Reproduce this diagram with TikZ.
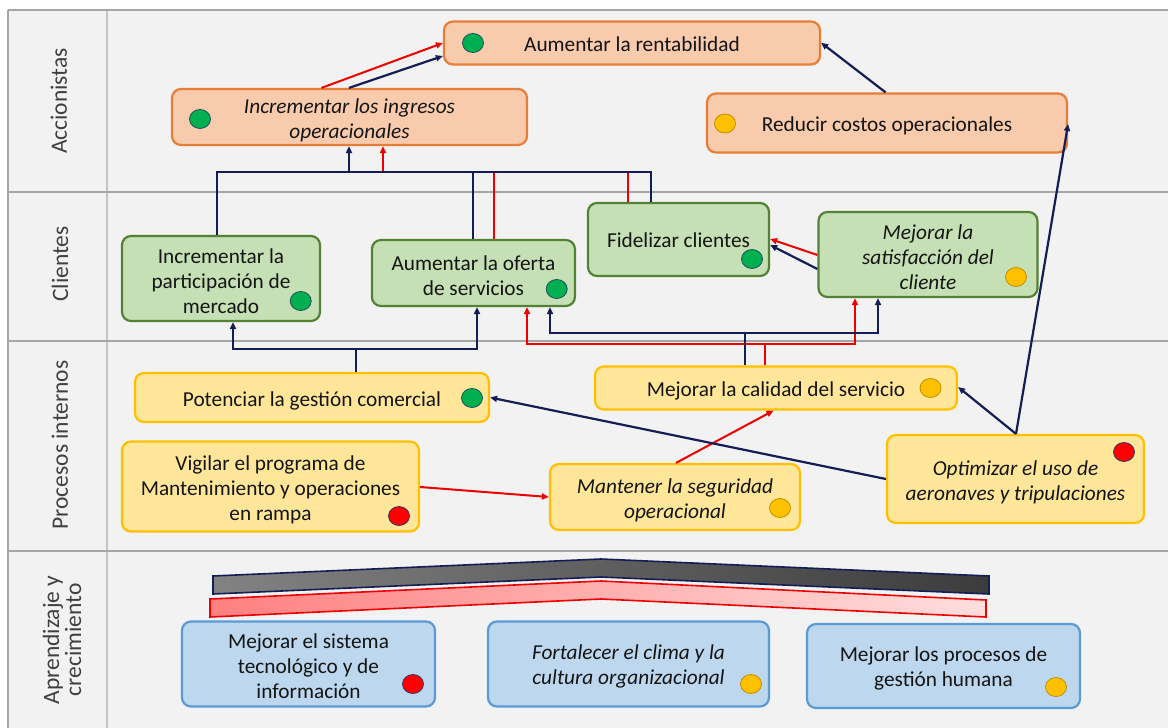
\documentclass[tikz,border=0pt]{standalone}
\usepackage{fontspec}
\setmainfont{Carlito}
\usetikzlibrary{arrows.meta,shapes.geometric}
\definecolor{navy}{RGB}{20,30,84}
\definecolor{redc}{RGB}{236,0,0}
\definecolor{bgc}{RGB}{242,242,242}
\definecolor{gridc}{RGB}{166,166,166}
\definecolor{gridl}{RGB}{196,196,196}
\definecolor{lanetext}{RGB}{64,64,64}
\definecolor{accfill}{RGB}{248,203,173}
\definecolor{accline}{RGB}{232,125,55}
\definecolor{clifill}{RGB}{197,224,180}
\definecolor{cliline}{RGB}{84,130,53}
\definecolor{procfill}{RGB}{255,230,153}
\definecolor{procline}{RGB}{255,192,0}
\definecolor{aprfill}{RGB}{189,215,238}
\definecolor{aprline}{RGB}{91,155,213}
\definecolor{dgreen}{RGB}{0,176,80}
\definecolor{dgreenl}{RGB}{31,78,90}
\definecolor{dyellow}{RGB}{255,192,0}
\definecolor{dyellowl}{RGB}{191,144,0}
\definecolor{dred}{RGB}{255,0,0}
\definecolor{dredl}{RGB}{47,58,107}
\definecolor{bandgA}{RGB}{130,130,130}
\definecolor{bandgB}{RGB}{60,60,60}
\definecolor{bandrA}{RGB}{255,128,128}
\definecolor{bandrB}{RGB}{255,222,222}
\newcommand\tsh[1]{\rule{0pt}{#1pt}}
\tikzset{
  box/.style={rectangle, rounded corners=9pt, line width=2.2pt, align=center,
    inner sep=0pt, font=\fontsize{21.3}{25}\selectfont, text=black!92},
  acc/.style={box, fill=accfill, draw=accline},
  cli/.style={box, fill=clifill, draw=cliline},
  proc/.style={box, fill=procfill, draw=procline},
  apr/.style={box, fill=aprfill, draw=aprline},
  dot/.style={ellipse, minimum width=21pt, minimum height=19pt, inner sep=0pt, line width=0.8pt},
  dotg/.style={dot, fill=dgreen, draw=dgreenl},
  doty/.style={dot, fill=dyellow, draw=dyellowl},
  dotr/.style={dot, fill=dred, draw=dredl},
  nv/.style={draw=navy, line width=2.2pt},
  nva/.style={nv, -{Triangle[length=7pt,width=6pt]}},
  rd/.style={draw=redc, line width=2pt},
  rda/.style={rd, -{Triangle[length=7pt,width=6pt]}},
  lane/.style={rotate=90, font=\fontsize{23.5}{22}\selectfont, text=lanetext, align=center, inner sep=0pt},
}
\begin{document}
\begin{tikzpicture}[x=1pt,y=-1pt]
\useasboundingbox (0,0) rectangle (1168,728);
% background and grid
\fill[bgc] (8,10) rectangle (1168,728);
\draw[gridl, line width=1.2pt] (107,10) -- (107,728);
\draw[gridc, line width=1.6pt] (8,10) -- (1168,10);
\draw[gridc, line width=1.6pt] (8,10) -- (8,728);
\foreach \yy in {192,341,551} {\draw[gridc, line width=2.2pt] (8,\yy) -- (1168,\yy);}
% lane labels
\node[lane] (lA) at (59,101) {Accionistas};
\node[lane] (lC) at (60,264) {Clientes};
\node[lane] (lP) at (60,445) {Procesos internos};
\node[lane] (lL) at (62,640) {Aprendizaje y\\crecimiento};
% Accionistas
\node[acc, minimum width=376pt, minimum height=43pt] (rent) at (632,43) {\tsh{17}Aumentar la rentabilidad};
\node[acc, minimum width=355pt, minimum height=56pt] (ingr) at (349.5,117) {\tsh{21}\itshape Incrementar los ingresos\\\itshape operacionales};
\node[acc, minimum width=360pt, minimum height=59pt] (costos) at (887,123) {\tsh{21}Reducir costos operacionales};
% Clientes
\node[cli, minimum width=198pt, minimum height=85pt] (part) at (221,278.5) {\tsh{20}Incrementar la\\participación de\\mercado};
\node[cli, minimum width=203pt, minimum height=66pt] (oferta) at (473.4,273) {\tsh{21}Aumentar la oferta\\de servicios};
\node[cli, minimum width=181pt, minimum height=73pt] (fidel) at (678.5,239.5) {\tsh{17}Fidelizar clientes};
\node[cli, minimum width=219pt, minimum height=85pt] (satis) at (928,254.5) {\tsh{20}\itshape Mejorar la\\\itshape satisfacción del\\\itshape cliente};
% Procesos internos
\node[proc, minimum width=354pt, minimum height=49pt] (poten) at (312,397.5) {\tsh{21}Potenciar la gestión comercial};
\node[proc, minimum width=362pt, minimum height=43pt] (calidad) at (776,388) {\tsh{21}Mejorar la calidad del servicio};
\node[proc, minimum width=297pt, minimum height=90pt] (vigilar) at (270.5,486.5) {\tsh{22}Vigilar el programa de\\Mantenimiento y operaciones\\en rampa};
\node[proc, minimum width=250pt, minimum height=66pt] (manten) at (675,497) {\tsh{22}\itshape Mantener la seguridad\\\itshape operacional};
\node[proc, minimum width=257pt, minimum height=88pt] (optim) at (1015.5,479) {\tsh{22}\itshape Optimizar el uso de\\\itshape aeronaves y tripulaciones};
% Aprendizaje
\node[apr, minimum width=253pt, minimum height=85pt] (sistema) at (308.5,664) {\tsh{20}Mejorar el sistema\\tecnológico y de\\información};
\node[apr, minimum width=281pt, minimum height=85pt] (clima) at (628.5,664) {\tsh{20}\itshape Fortalecer el clima y la\\\itshape cultura organizacional};
\node[apr, minimum width=273pt, minimum height=84pt] (humana) at (943.5,666) {\tsh{20}Mejorar los procesos de\\gestión humana};
% status dots
\node[dotg] (d1) at (473,43) {};
\node[dotg] (d2) at (200,119) {};
\node[doty] (d3) at (725,123.5) {};
\node[dotg] (d4) at (300.7,301) {};
\node[dotg] (d5) at (556.7,289) {};
\node[dotg] (d6) at (752,259) {};
\node[doty] (d7) at (1016,277) {};
\node[dotg] (d8) at (472,398) {};
\node[doty] (d9) at (930.5,388) {};
\node[dotr] (d10) at (399,516) {};
\node[doty] (d11) at (780,508) {};
\node[dotr] (d12) at (1124,452) {};
\node[dotr] (d13) at (413,684) {};
\node[doty] (d14) at (751,684) {};
\node[doty] (d15) at (1056,687) {};
% top connectors
\draw[rda] (ingr.north -| 321.5,0) -- (rent.west);
\draw[nva] (ingr.north -| 349,0) -- (rent.west |- 0,56);
\draw[nva] (costos.north -| 885.6,0) -- (rent.east |- 0,42.7);
% clients to ingresos
\coordinate (tbL) at (217,172);
\coordinate (tbR) at (651,172);
\coordinate (tbA) at (349,172);
\coordinate (tbB) at (383,172);
\draw[rd] (oferta.north -| 494,0) -- (494,172);
\draw[rd] (fidel.north -| 628,0) -- (628,172);
\draw[rda] (tbB) -- (ingr.south -| tbB);
\draw[nv] (part.north -| tbL) -- (tbL) -- (tbR) -- (fidel.north -| tbR);
\draw[nv] (oferta.north -| 473,0) -- (473,172);
\draw[nva] (tbA) -- (ingr.south -| tbA);
% satisfaccion to fidelizar
\draw[rda] (satis.west |- 0,255) -- (fidel.east |- 0,239);
\draw[nva] (satis.west |- 0,269) -- (fidel.east |- 0,245);
% potenciar bus
\coordinate (pb) at (356,349);
\draw[nv] (poten.north -| pb) -- (pb);
\draw[nva] (pb) -| (part.south -| 233,0);
\draw[nva] (pb) -| (oferta.south -| 477,0);
% calidad buses
\coordinate (cr) at (765,344);
\coordinate (cn) at (745,333);
\draw[rd] (calidad.north -| cr) -- (cr);
\draw[rda] (cr) -| (oferta.south -| 527,0);
\draw[rda] (cr) -| (satis.south -| 855,0);
\draw[nv] (calidad.north -| cn) -- (cn);
\draw[nva] (cn) -| (oferta.south -| 550,0);
\draw[nva] (cn) -| (satis.south -| 878,0);
% procesos internos connectors
\draw[rda] (manten.north -| 676,0) -- (calidad.south -| 773.5,0);
\draw[rda] (vigilar.east |- 0,487) -- (manten.west |- 0,497);
\draw[nva] (optim.west |- 0,479) -- (poten.east);
\draw[nva] (optim.north -| 1016,0) -- (calidad.east |- 0,387);
\draw[nva] (optim.north -| 1016,0) -- (costos.east |- 0,124);
% bands
\path[draw=navy, line width=1.6pt, left color=bandgA, right color=bandgB, line join=miter]
  (213,576) -- (601,559) -- (989,576) -- (989,594) -- (601,577) -- (213,594) -- cycle;
\path[draw=redc, line width=1.6pt, left color=bandrA, right color=bandrB, line join=miter]
  (210,599) -- (601,581) -- (986,600) -- (986,617) -- (601,599) -- (210,617) -- cycle;
\end{tikzpicture}
\end{document}
